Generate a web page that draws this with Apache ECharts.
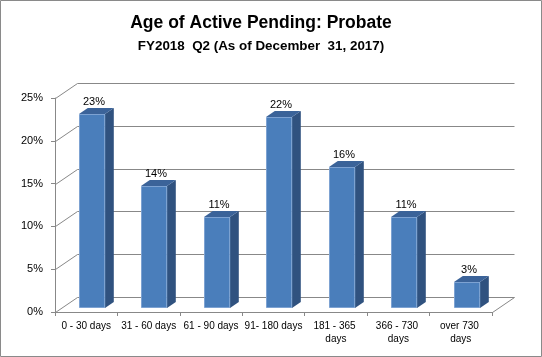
<!DOCTYPE html>
<html><head><meta charset="utf-8">
<script src="https://cdn.jsdelivr.net/npm/echarts@6/dist/echarts.min.js"></script>
<style>html,body{margin:0;padding:0;background:#fff}#c{width:542px;height:357px}</style>
</head><body><div id="c"></div>
<script>
// ---- data ----
const categories = ['0 - 30 days', '31 - 60 days', '61 - 90 days', '91- 180 days', '181 - 365 days', '366 - 730 days', 'over 730 days'];
const values = [0.226, 0.1425, 0.106, 0.223, 0.1643, 0.1067, 0.0307];
const yTicks = [0, 0.05, 0.10, 0.15, 0.20, 0.25];
const titleText = 'Age of Active Pending: Probate';
const subtitleText = 'FY2018  Q2 (As of December  31, 2017)';

// ---- 3D look constants ----
const DEPTH = [22, -15];
const BAR_OFF = 0.27, BAR_DEPTH = 0.4, BAR_W = 0.42;
const FONT = '"Liberation Sans", Arial, sans-serif';
const GRID_COLOR = '#888888';

function renderWall(params, api) {
  const v = api.value(1);
  const cs = params.coordSys;
  const p = api.coord([0, v]);
  const y = Math.round(p[1]) + 0.5;
  const xl = Math.round(cs.x) + 0.5, xr = Math.round(cs.x + cs.width) + 0.5;
  const st = { stroke: GRID_COLOR, lineWidth: 1 };
  const children = [
    { type: 'line', shape: { x1: xl, y1: y, x2: xl + DEPTH[0], y2: y + DEPTH[1] }, style: st },
    { type: 'line', shape: { x1: xl + DEPTH[0], y1: y + DEPTH[1], x2: xr + DEPTH[0], y2: y + DEPTH[1] }, style: st }
  ];
  if (v === 0) {
    children.push({ type: 'line', shape: { x1: xr, y1: y, x2: xr + DEPTH[0], y2: y + DEPTH[1] }, style: st });
  }
  return { type: 'group', children };
}

function renderBar(params, api) {
  const i = api.value(0), v = api.value(1);
  const base = api.coord([i, 0]), top = api.coord([i, v]);
  const bw = api.size([1, 0])[0] * BAR_W;
  const ox = DEPTH[0] * BAR_OFF, oy = DEPTH[1] * BAR_OFF;
  const dx = DEPTH[0] * BAR_DEPTH, dy = DEPTH[1] * BAR_DEPTH;
  const x0 = Math.round(base[0] - bw / 2 + ox), x1 = Math.round(x0 + bw);
  const yb = Math.round(base[1] + oy), yt = Math.round(top[1] + oy);
  return {
    type: 'group', children: [
      { type: 'polygon', shape: { points: [[x1, yb], [x1 + dx, yb + dy], [x1 + dx, yt + dy], [x1, yt]] }, style: { fill: '#30527F' } },
      { type: 'polygon', shape: { points: [[x0, yt], [x1, yt], [x1 + dx, yt + dy], [x0 + dx, yt + dy]] }, style: { fill: '#3B6399' } },
      { type: 'rect', shape: { x: x0 + 0.5, y: yt + 0.5, width: bw - 1, height: yb - yt - 1 }, style: { fill: '#4A7EBB', stroke: '#7DA2D2', lineWidth: 1 } },
      { type: 'text', x: (x0 + x1) / 2 + 2, y: yt + dy - 1, style: { text: Math.round(v * 100) + '%', textAlign: 'center', textVerticalAlign: 'bottom', font: '11px ' + FONT, fill: '#000' } }
    ]
  };
}

const chart = echarts.init(document.getElementById('c'), null, { renderer: 'canvas' });
chart.setOption({
  animation: false,
  backgroundColor: '#fff',
  grid: { left: 55, right: 50, top: 98, bottom: 45, outerBoundsMode: 'none' },
  xAxis: {
    type: 'category', data: categories,
    axisLine: { lineStyle: { color: GRID_COLOR } },
    axisTick: { show: true, length: 4, lineStyle: { color: GRID_COLOR } },
    axisLabel: { fontSize: 10, fontFamily: FONT, color: '#000', margin: 8, width: 60, overflow: 'break', lineHeight: 13, interval: 0 },
    splitLine: { show: false }
  },
  yAxis: {
    type: 'value', min: 0, max: 0.25, interval: 0.05,
    axisLine: { show: true, lineStyle: { color: GRID_COLOR } },
    axisTick: { show: true, length: 4, lineStyle: { color: GRID_COLOR } },
    axisLabel: { fontSize: 11, fontFamily: FONT, color: '#000', margin: 12, formatter: v => Math.round(v * 100) + '%' },
    splitLine: { show: false }
  },
  series: [
    { type: 'custom', renderItem: renderWall, data: yTicks.map(v => [0, v]), encode: { x: 0, y: 1 }, z: 1, silent: true },
    { type: 'custom', renderItem: renderBar, data: values.map((v, i) => [i, v]), encode: { x: 0, y: 1 }, z: 5 }
  ],
  graphic: [
    { type: 'rect', shape: { x: 0.5, y: 0.5, width: 541, height: 356 }, style: { fill: 'none', stroke: '#8A8A8A', lineWidth: 1 }, z: 100 },
    { type: 'text', x: 261, y: 23, style: { text: titleText, font: 'bold 17.5px ' + FONT, textAlign: 'center', textVerticalAlign: 'middle', fill: '#000' } },
    { type: 'text', x: 261, y: 46, style: { text: subtitleText, font: 'bold 13.4px ' + FONT, textAlign: 'center', textVerticalAlign: 'middle', fill: '#000' } }
  ]
});
</script>
</body></html>
